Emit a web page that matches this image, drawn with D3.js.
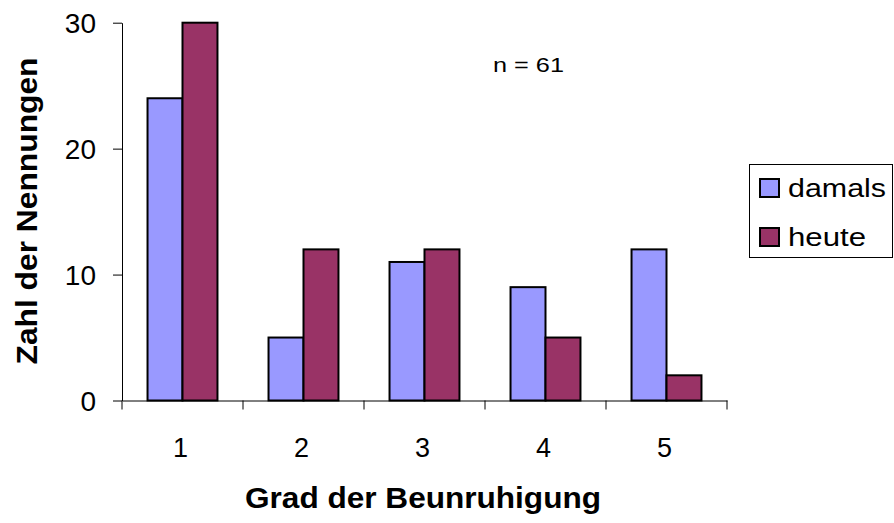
<!DOCTYPE html>
<html lang="de">
<head>
<meta charset="UTF-8">
<script src="https://d3js.org/d3.v7.min.js"></script>
<style>
  body { margin: 0; background: #fff; font-family: Arial, "Liberation Sans", sans-serif; }
  svg text { font-family: Arial, "Liberation Sans", sans-serif; fill: #000; }
</style>
</head>
<body>
<div id="chart"></div>
<script>
// Daten
const categories = ["1", "2", "3", "4", "5"];
const seriesNames = ["damals", "heute"];
const damals = [24, 5, 11, 9, 12];
const heute = [30, 12, 12, 5, 2];
const yTicks = [0, 10, 20, 30];
const colors = ["#9999ff", "#993366"];

const W = 894, H = 523;
const plot = {left: 122, right: 727, top: 22.7, bottom: 400.5};

const svg = d3.select("#chart").append("svg")
    .attr("width", W).attr("height", H);

const x = d3.scaleBand().domain(categories).range([plot.left, plot.right]).padding(0);
const xs = d3.scaleBand().domain(seriesNames).range([0, x.bandwidth()]).paddingOuter(0.73).paddingInner(0);
const y = d3.scaleLinear().domain([0, 30]).range([plot.bottom, plot.top]);

// Balken
const rows = categories.map((c, i) => ({cat: c, values: [damals[i], heute[i]]}));
const groups = svg.selectAll(".grp").data(rows).enter().append("g")
    .attr("transform", d => `translate(${x(d.cat)},0)`);
groups.selectAll("rect")
    .data(d => d.values.map((v, j) => ({name: seriesNames[j], v: v, j: j})))
    .enter().append("rect")
    .attr("x", d => xs(d.name))
    .attr("y", d => y(d.v))
    .attr("width", xs.bandwidth())
    .attr("height", d => y(0) - y(d.v))
    .attr("fill", d => colors[d.j])
    .attr("stroke", "#000")
    .attr("stroke-width", 2);

// Achsen
const yAxis = svg.append("g")
    .attr("transform", `translate(${plot.left},0)`)
    .call(d3.axisLeft(y).tickValues(yTicks).tickSize(9).tickPadding(17).tickSizeOuter(0));
yAxis.select(".domain").attr("stroke", "#000");
yAxis.selectAll("text").style("font-size", "28px").attr("dy", "0.36em");

const xAxis = svg.append("g")
    .attr("transform", `translate(0,${plot.bottom})`)
    .call(d3.axisBottom(x).tickSize(0).tickPadding(37));
xAxis.select(".domain").attr("stroke", "#000");
xAxis.selectAll("text").style("font-size", "27px").attr("dy", "0.71em").attr("dx", "-2");
// Trennstriche zwischen Kategorien
const sepTicks = categories.map(c => x(c)).concat([x(categories[categories.length - 1]) + x.bandwidth()]);
xAxis.selectAll(".sep").data(sepTicks).enter().append("line")
    .attr("x1", d => d).attr("x2", d => d)
    .attr("y1", 0).attr("y2", 9)
    .attr("stroke", "#000");

// Titel
svg.append("text")
    .attr("x", 423).attr("y", 508)
    .attr("text-anchor", "middle")
    .attr("textLength", 356).attr("lengthAdjust", "spacingAndGlyphs")
    .style("font-size", "29px").style("font-weight", "bold")
    .text("Grad der Beunruhigung");

svg.append("text")
    .attr("transform", "translate(37,211) rotate(-90)")
    .attr("text-anchor", "middle")
    .attr("textLength", 307).attr("lengthAdjust", "spacingAndGlyphs")
    .style("font-size", "29px").style("font-weight", "bold")
    .text("Zahl der Nennungen");

svg.append("text")
    .attr("x", 493).attr("y", 72)
    .attr("textLength", 71).attr("lengthAdjust", "spacingAndGlyphs")
    .style("font-size", "20px")
    .text("n = 61");

// Legende
const legendWidths = [98, 78];
const legend = svg.append("g");
legend.append("rect")
    .attr("x", 749.5).attr("y", 164.5).attr("width", 143).attr("height", 93)
    .attr("fill", "#fff").attr("stroke", "#000").attr("stroke-width", 1);
seriesNames.forEach((s, i) => {
  legend.append("rect")
      .attr("x", 760).attr("y", 179 + i * 49).attr("width", 19).attr("height", 18)
      .attr("fill", colors[i]).attr("stroke", "#000").attr("stroke-width", 2);
  legend.append("text")
      .attr("x", 788).attr("y", 197 + i * 49)
      .attr("textLength", legendWidths[i]).attr("lengthAdjust", "spacingAndGlyphs")
      .style("font-size", "25px")
      .text(s);
});
</script>
</body>
</html>
